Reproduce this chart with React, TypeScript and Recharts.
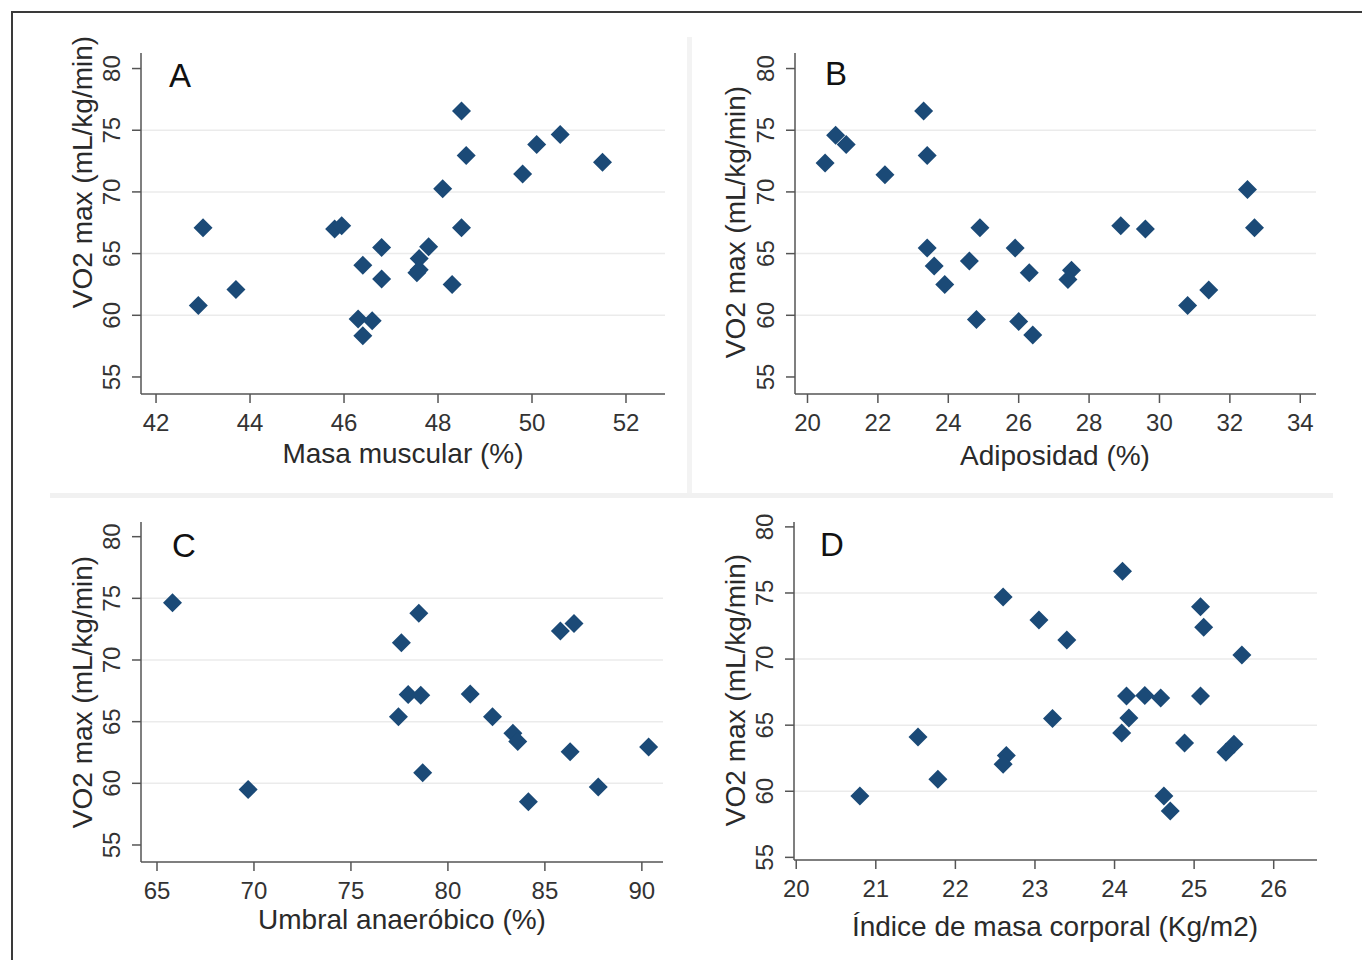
import { ScatterChart, Scatter, XAxis, YAxis, CartesianGrid } from 'recharts';

// VO2 max vs body composition / threshold, 4 panels (Stata-like look)
const NAVY = '#1b4a77';
const FONT = '"Liberation Sans", Arial, Helvetica, sans-serif';

const vo2Ticks = [55, 60, 65, 70, 75, 80];
const vo2Grid = [60, 65, 70, 75];

// panel A: masa muscular (%)
const muscleX = [48.5, 50.6, 50.1, 48.6, 51.5, 49.8, 48.1, 43.0, 45.8, 45.95, 48.5, 46.8, 47.8, 47.6, 47.6, 47.55, 46.4, 46.8, 48.3, 43.7, 42.9, 46.3, 46.6, 46.4];
const muscleY = [76.55, 74.65, 73.85, 72.95, 72.4, 71.45, 70.25, 67.1, 67.0, 67.25, 67.1, 65.5, 65.55, 64.6, 63.7, 63.45, 64.05, 62.95, 62.5, 62.1, 60.8, 59.7, 59.55, 58.35];
const muscleTicks = [42, 44, 46, 48, 50, 52];

// panel B: adiposidad (%)
const fatX = [23.3, 20.8, 21.1, 20.5, 22.2, 23.4, 32.5, 24.9, 28.9, 29.6, 32.7, 23.4, 25.9, 23.6, 24.6, 26.3, 27.5, 27.4, 23.9, 31.4, 30.8, 24.8, 26.0, 26.4];
const fatY = [76.55, 74.6, 73.85, 72.35, 71.4, 72.95, 70.2, 67.1, 67.25, 67.0, 67.1, 65.45, 65.45, 64.0, 64.4, 63.45, 63.65, 62.9, 62.5, 62.05, 60.8, 59.65, 59.5, 58.4];
const fatTicks = [20, 22, 24, 26, 28, 30, 32, 34];

// panel C: umbral anaerobico (%)
const thrX = [65.8, 78.5, 85.8, 86.5, 77.6, 77.95, 78.6, 81.15, 77.45, 82.3, 83.35, 83.6, 86.3, 90.35, 78.7, 69.7, 87.75, 84.15];
const thrY = [74.65, 73.8, 72.35, 72.95, 71.4, 67.2, 67.15, 67.25, 65.4, 65.4, 64.05, 63.4, 62.55, 62.95, 60.85, 59.5, 59.7, 58.5];
const thrTicks = [65, 70, 75, 80, 85, 90];

// panel D: IMC (Kg/m2)
const bmiX = [24.1, 22.6, 25.08, 23.05, 25.12, 23.4, 25.6, 24.15, 24.38, 24.58, 25.08, 23.22, 24.18, 24.09, 21.53, 24.88, 25.5, 25.4, 22.64, 22.6, 21.78, 20.8, 24.62, 24.7];
const bmiY = [76.65, 74.7, 73.95, 72.95, 72.4, 71.45, 70.3, 67.2, 67.25, 67.05, 67.2, 65.5, 65.55, 64.4, 64.1, 63.65, 63.55, 62.95, 62.7, 62.05, 60.9, 59.65, 59.65, 58.5];
const bmiTicks = [20, 21, 22, 23, 24, 25, 26];

function toPoints(xs: number[], ys: number[]) {
  return xs.map((x, i) => ({ x, y: ys[i] }));
}

function Diamond(props: any) {
  const { cx, cy } = props;
  const r = 9.5;
  return <path d={`M${cx},${cy - r}L${cx + r},${cy}L${cx},${cy + r}L${cx - r},${cy}Z`} fill={NAVY} />;
}

function XTick({ x, y, payload }: any) {
  return (
    <text x={x} y={y + 26} textAnchor="middle" fontSize={24} fill="#333" fontFamily={FONT}>
      {payload.value}
    </text>
  );
}

function YTick({ x, y, payload }: any) {
  return (
    <text transform={`translate(${x - 10},${y}) rotate(-90)`} textAnchor="middle" fontSize={24} fill="#333" fontFamily={FONT}>
      {payload.value}
    </text>
  );
}

type PanelProps = {
  data: { x: number; y: number }[];
  left: number;
  top: number;
  w: number;
  h: number;
  xDomain: [number, number];
  yDomain: [number, number];
  xTicks: number[];
};

function Panel({ data, left, top, w, h, xDomain, yDomain, xTicks }: PanelProps) {
  const axis = { stroke: '#555', strokeWidth: 1.5 };
  return (
    <div style={{ position: 'absolute', left: left - 100, top: top - 10 }}>
      <ScatterChart width={w + 110} height={h + 70} margin={{ top: 10, right: 10, bottom: 0, left: 0 }}>
        <CartesianGrid vertical={false} horizontalValues={vo2Grid} stroke="#ebebeb" strokeWidth={1.5} />
        <XAxis
          type="number" dataKey="x" domain={xDomain} ticks={xTicks} allowDataOverflow
          height={60} axisLine={axis} tickLine={axis} tickSize={9} tickMargin={2} tick={<XTick />}
        />
        <YAxis
          type="number" dataKey="y" domain={yDomain} ticks={vo2Ticks} allowDataOverflow
          width={100} axisLine={axis} tickLine={axis} tickSize={9} tickMargin={2} tick={<YTick />}
        />
        <Scatter data={data} shape={<Diamond />} isAnimationActive={false} />
      </ScatterChart>
    </div>
  );
}

export default function App() {
  const title = { fontFamily: FONT, fontSize: 28, fill: '#2a2a2a' };
  const letter = { fontFamily: FONT, fontSize: 33, fill: '#111' };
  return (
    <div style={{ position: 'absolute', left: 0, top: 0, width: 1362, height: 960, overflow: 'hidden', background: '#fff' }}>
      <div style={{ position: 'absolute', left: 11, top: 11, width: 1400, height: 1000, border: '2px solid #3a3a3a' }} />
      <div style={{ position: 'absolute', left: 50, top: 493, width: 1283, height: 5, background: '#f1f1f1' }} />
      <div style={{ position: 'absolute', left: 687, top: 37, width: 5, height: 456, background: '#f3f3f3' }} />

      <Panel data={toPoints(muscleX, muscleY)} left={141} top={53} w={524} h={341} xDomain={[41.68, 52.83]} yDomain={[53.62, 81.26]} xTicks={muscleTicks} />
      <Panel data={toPoints(fatX, fatY)} left={795} top={53} w={521} h={341} xDomain={[19.645, 34.447]} yDomain={[53.62, 81.26]} xTicks={fatTicks} />
      <Panel data={toPoints(thrX, thrY)} left={141} top={522} w={522} h={340} xDomain={[64.175, 91.09]} yDomain={[53.62, 81.19]} xTicks={thrTicks} />
      <Panel data={toPoints(bmiX, bmiY)} left={794} top={522} w={523} h={338} xDomain={[19.972, 26.544]} yDomain={[54.8, 80.37]} xTicks={bmiTicks} />

      <svg width={1362} height={960} style={{ position: 'absolute', left: 0, top: 0, pointerEvents: 'none' }}>
        <text x={169} y={87} {...letter}>A</text>
        <text x={825} y={85} {...letter}>B</text>
        <text x={172} y={557} {...letter}>C</text>
        <text x={820} y={556} {...letter}>D</text>

        <text x={403} y={463} textAnchor="middle" {...title}>Masa muscular (%)</text>
        <text x={1055} y={465} textAnchor="middle" {...title}>Adiposidad (%)</text>
        <text x={402} y={929} textAnchor="middle" {...title}>Umbral anaeróbico (%)</text>
        <text x={1055} y={936} textAnchor="middle" {...title}>Índice de masa corporal (Kg/m2)</text>

        <text transform="translate(92,172) rotate(-90)" textAnchor="middle" {...title}>VO2 max (mL/kg/min)</text>
        <text transform="translate(745,222) rotate(-90)" textAnchor="middle" {...title}>VO2 max (mL/kg/min)</text>
        <text transform="translate(92,692) rotate(-90)" textAnchor="middle" {...title}>VO2 max (mL/kg/min)</text>
        <text transform="translate(745,690) rotate(-90)" textAnchor="middle" {...title}>VO2 max (mL/kg/min)</text>
      </svg>
    </div>
  );
}
